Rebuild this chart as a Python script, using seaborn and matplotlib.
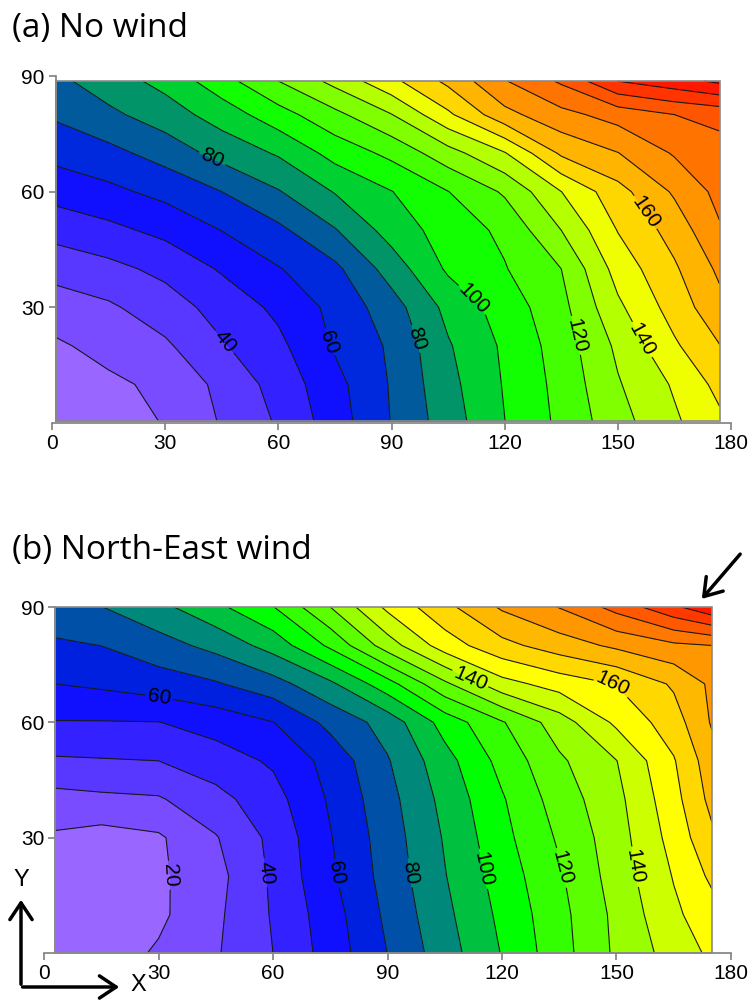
import numpy as np
import matplotlib
matplotlib.use("Agg")
import matplotlib.pyplot as plt
import seaborn as sns
from matplotlib.patches import Rectangle, FancyArrowPatch

# ---- (a) no wind : grid values ----
no_wind_x = [1, 15, 30, 45, 60, 75, 90, 105, 120, 135, 150, 165, 177]
no_wind_y = [0.5, 10, 20, 30, 40, 50, 60, 70, 80, 88.7]
no_wind_z = [
    [14, 17, 20.4, 30.9, 41.2, 55.2, 70.4, 85.1, 99.9, 112.3, 126.3, 138.5, 148],
    [15.5, 18, 22.3, 32.6, 43.8, 56.8, 70.9, 86.9, 100.8, 113.2, 129.1, 141.2, 153],
    [18.5, 23.3, 28.4, 39, 47.6, 61.1, 71.6, 89, 101.7, 114.6, 132, 148.5, 159.7],
    [25.2, 28.5, 35.3, 43.8, 52.2, 62.8, 75.6, 92.9, 104.5, 116.9, 138, 154.3, 167],
    [33.5, 37.2, 42.6, 51.1, 59.4, 67.7, 84.5, 101.6, 109.4, 120, 144, 158.6, 172],
    [43.7, 47.4, 52.7, 60.2, 67.7, 79.3, 94.2, 104.6, 112.1, 130, 150.4, 164, 179],
    [53.7, 57.6, 62.9, 70, 79.3, 90.6, 99.7, 109.8, 121.4, 139.9, 156.4, 171.4, 183],
    [63.1, 67.1, 74, 83.5, 91.1, 103.6, 112.6, 126, 139.3, 161.7, 169.7, 181, 186],
    [71.5, 77.8, 85.2, 94.5, 105.9, 117.4, 129.7, 148.1, 166.9, 177, 184, 190, 193],
    [77.5, 85.3, 93.1, 106, 120, 133, 147.4, 162.4, 179.4, 191.5, 210.1, 216.2, 222],
]

# ---- (b) north-east wind ----
ne_wind_x = [3, 15, 30, 45, 60, 75, 90, 105, 120, 135, 150, 165, 175]
ne_wind_y = [0, 10, 20, 30, 40, 50, 60, 70, 80, 90]
ne_wind_z = [
    [12, 15, 21.2, 29, 40, 54.3, 70.1, 85.4, 100.5, 115.9, 131.8, 144.2, 152],
    [11, 14.6, 18, 28, 40.9, 55.6, 72.1, 87.5, 102.4, 116.8, 132.5, 148, 156],
    [12, 15, 18.3, 26.6, 41.7, 58.3, 73.8, 89.5, 104.5, 118.6, 134.5, 150.6, 162],
    [18.5, 16, 18.6, 29.3, 42.6, 59.4, 74.9, 90.9, 106.9, 121.4, 135.5, 153.7, 168],
    [26.5, 27.9, 29, 36.7, 46.2, 61.3, 76.5, 93, 109, 124.7, 137.1, 156.5, 173],
    [38.7, 39.3, 40, 45.3, 51.4, 63.5, 79.2, 96.2, 113.3, 128.3, 139.8, 159.2, 176],
    [49.5, 49.5, 49.8, 54.1, 59.8, 72.8, 84, 104, 119.1, 135.2, 152, 165.3, 181],
    [60, 61.8, 65.1, 69, 76, 88, 106, 128, 146.4, 154.2, 160.4, 171.4, 182],
    [68.5, 70.1, 76, 83, 94, 112, 135, 155, 167, 175, 182, 188, 190],
    [76, 79.8, 87.2, 97.5, 109.6, 130, 152.3, 167.1, 181.4, 190.4, 203.5, 218, 228],
]

levels = list(range(0, 240, 10))
label_levels = [20, 40, 60, 80, 100, 120, 140, 160]
plain_levels = [v for v in levels if v not in label_levels]
ticks_x = [0, 30, 60, 90, 120, 150, 180]
ticks_y = [30, 60, 90]

colors_a = ["#9966FF", "#9966FF", "#7A4CFF", "#5838FF", "#3322FF", "#1010FF",
            "#0028DD", "#005A9C", "#009468", "#00D030", "#11FF00", "#44FF00",
            "#80FF00", "#B4FF00", "#F0FF00", "#FFD700", "#FFB400", "#FF9400",
            "#FF7400", "#FF5400", "#FF3400", "#FF1800", "#FF0000"]
colors_b = ["#9966FF", "#9966FF", "#7A4CFF", "#5838FF", "#3322FF", "#1010FF",
            "#0020E0", "#0050A8", "#00887A", "#00C040", "#00FF00", "#33FF00",
            "#5CFF00", "#99FF00", "#CCFF00", "#FFFF00", "#FFD800", "#FFB800",
            "#FF9800", "#FF7800", "#FF5800", "#FF3800", "#FF1800"]

labels_a = [(45.4, 20.8), (72.8, 20.8), (41.9, 67.5), (94.9, 21.3), (111.7, 32.1),
            (140, 23), (159, 23), (158.1, 55.2)]
labels_b = [(37.5, 20.8), (57.5, 20.8), (76.7, 20.8), (30.4, 67.9), (95.4, 20.8),
            (115.5, 22), (136.5, 22.4), (155.3, 22.5), (111, 69.7), (149.1, 70.2)]

sns.set_style("white")
plt.rcParams["font.family"] = ["Liberation Sans", "DejaVu Sans"]
plt.rcParams["text.color"] = "black"

fig = plt.figure(figsize=(7.55, 10.07), dpi=100)
ax_a = fig.add_axes([0.0689, 0.5799, 0.8993, 0.3446])
ax_b = fig.add_axes([0.0583, 0.0536, 0.9099, 0.3436])


def draw_panel(ax, xs, ys, zs, colors, label_pos):
    X, Y = np.meshgrid(xs, ys)
    Z = np.array(zs)
    ax.contourf(X, Y, Z, levels=levels, colors=colors)
    ax.contour(X, Y, Z, levels=plain_levels, colors="#1a1a1a", linewidths=0.8)
    cs = ax.contour(X, Y, Z, levels=label_levels, colors="#1a1a1a", linewidths=0.8)
    ax.clabel(cs, fmt="%d", fontsize=15, inline=True, inline_spacing=3,
              manual=label_pos, colors="black")
    x0, x1, y0, y1 = xs[0], xs[-1], ys[0], ys[-1]
    ax.add_patch(Rectangle((x0, y0), x1 - x0, y1 - y0, fill=False,
                           ec="#8a8a8a", lw=1.2, zorder=5, clip_on=False))
    ax.set_xlim(0, 180)
    ax.set_ylim(0, 90)
    ax.set_xticks(ticks_x)
    ax.set_yticks(ticks_y)
    sns.despine(ax=ax)
    ax.spines["left"].set_position(("data", x0))
    ax.spines["left"].set_bounds(y0, 90)
    for s in ("left", "bottom"):
        ax.spines[s].set_color("#7f7f7f")
        ax.spines[s].set_linewidth(1.2)
    ax.tick_params(direction="out", length=5, width=1.2, color="#7f7f7f",
                   labelcolor="black", labelsize=15, pad=3, left=True, bottom=True)


draw_panel(ax_a, no_wind_x, no_wind_y, no_wind_z, colors_a, labels_a)
draw_panel(ax_b, ne_wind_x, ne_wind_y, ne_wind_z, colors_b, labels_b)

fig.text(12 / 755, 1 - 28 / 1007, "(a) No wind", fontsize=24, va="center",
         ha="left", family=["Open Sans", "DejaVu Sans"])
fig.text(12 / 755, 1 - 551 / 1007, "(b) North-East wind", fontsize=24,
         va="center", ha="left", family=["Open Sans", "DejaVu Sans"])

# wind direction arrow
arrow_kw = dict(transform=fig.transFigure, arrowstyle="->,head_length=6,head_width=4",
                color="black", lw=2.5, mutation_scale=2)
fig.add_artist(FancyArrowPatch((742 / 755, 1 - 552 / 1007), (700 / 755, 1 - 601 / 1007), **arrow_kw))
# X / Y direction arrows
fig.add_artist(FancyArrowPatch((21 / 755, 1 - 987 / 1007), (21 / 755, 1 - 897 / 1007), **arrow_kw))
fig.add_artist(FancyArrowPatch((19.8 / 755, 1 - 987 / 1007), (122 / 755, 1 - 987 / 1007), **arrow_kw))
fig.text(21 / 755, 1 - 880 / 1007, "Y", fontsize=17, ha="center", va="center")
fig.text(138 / 755, 1 - 985 / 1007, "X", fontsize=17, ha="center", va="center")

fig.savefig("out.png", dpi=100)
